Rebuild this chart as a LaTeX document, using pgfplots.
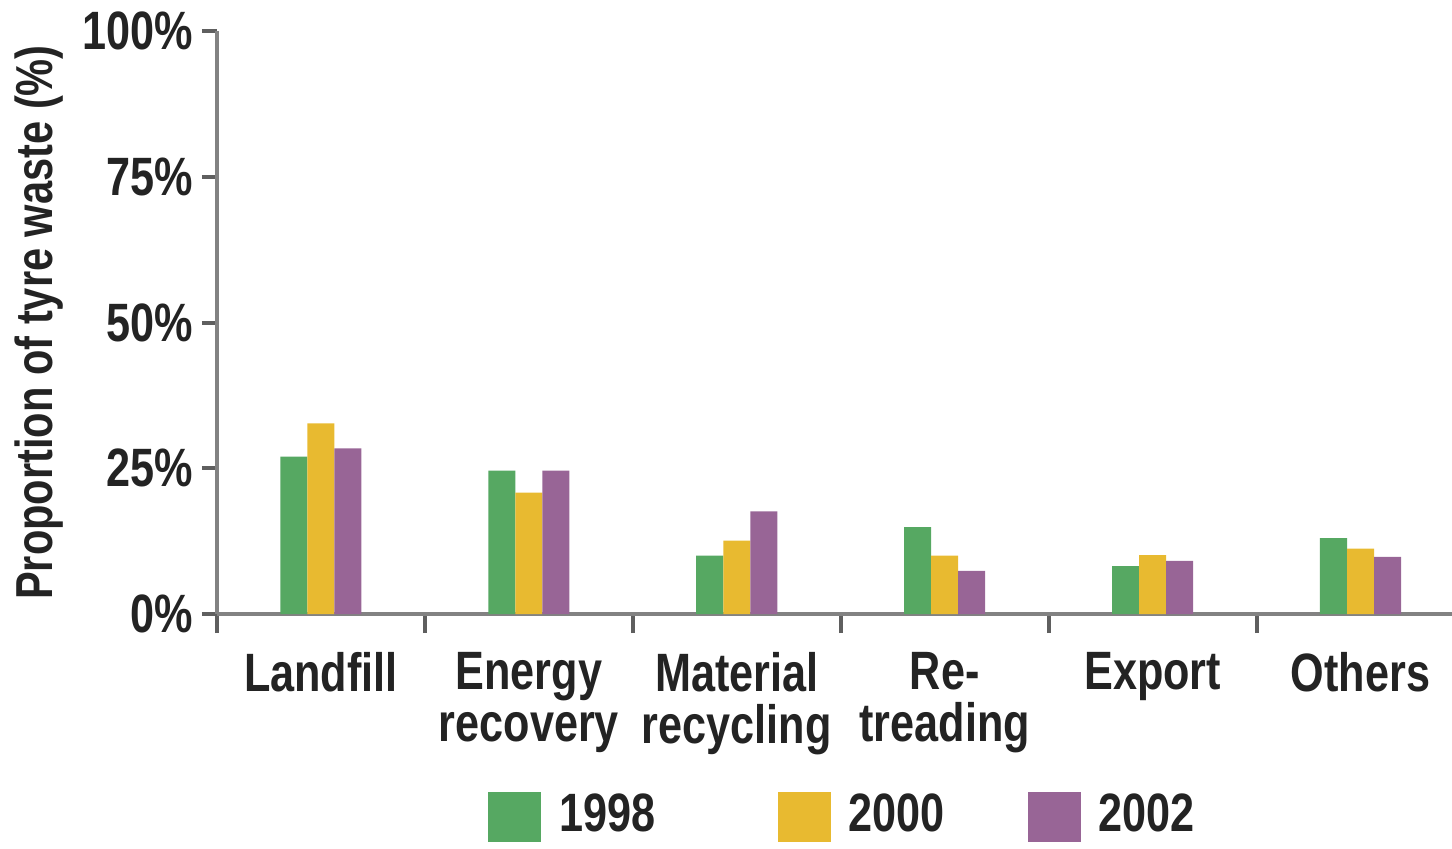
\documentclass[border=0pt]{standalone}
\usepackage{pgfplots}
\pgfplotsset{compat=1.18}
\usepackage{pgfplotstable}
\usepackage{fontspec}
\setmainfont{Liberation Sans}[FakeStretch=0.8]
\definecolor{cgreen}{RGB}{86,168,98}
\definecolor{cyellow}{RGB}{232,186,48}
\definecolor{cpurple}{RGB}{152,101,150}
\definecolor{caxis}{RGB}{130,130,130}
\definecolor{ctick}{RGB}{95,95,95}
\definecolor{ctext}{RGB}{35,35,35}

\pgfplotstableread{
x y1998 y2000 y2002
0 27.0 32.7 28.4
1 24.6 20.8 24.6
2 10.0 12.6 17.6
3 14.9 10.0 7.4
4 8.2 10.1 9.1
5 13.0 11.2 9.8
}\datatable

\begin{document}
\begin{tikzpicture}[font=\bfseries]
\begin{axis}[
  at={(0,0)}, anchor=south west,
  width=617.5pt, height=291.5pt, scale only axis,
  xmin=-0.5, xmax=5.44, ymin=0, ymax=100,
  axis lines=left,
  axis line style={caxis, line width=2pt, -},
  ybar, bar width=0.13,
  ytick={0,25,50,75,100},
  yticklabels={0\%,25\%,50\%,75\%,100\%},
  xtick={0,1,2,3,4,5},
  xticklabels={Landfill, Energy\\recovery, Material\\recycling, Re-\\treading, Export, Others},
  minor xtick={-0.5,0.5,1.5,2.5,3.5,4.5},
  tick align=outside,
  major tick length=7.5pt, minor tick length=9.5pt,
  major x tick style={draw=none},
  minor x tick style={ctick, line width=2pt},
  ytick style={ctick, line width=2pt},
  /pgf/number format/assume math mode=true,
  tick label style={text=ctext, font=\fontsize{27}{26}\selectfont\bfseries},
  xticklabel style={align=center, anchor=north, inner sep=0pt, yshift=-11.5pt},
  yticklabel style={inner sep=0pt, xshift=-4.5pt},
  ylabel={Proportion of tyre waste (\%)},
  ylabel style={at={(axis description cs:-0.144,0.5)}, anchor=center, inner sep=0pt, text=ctext, font=\fontsize{26}{30}\selectfont\bfseries},
  legend columns=3,
  legend style={draw=none, fill=none, at={(axis description cs:0,0)}, anchor=north west,
    xshift=135.5pt, yshift=-89pt, inner sep=0pt,
    nodes={inner sep=0pt, text depth=0pt, text=ctext, font=\fontsize{27}{30}\selectfont\bfseries},
    /tikz/column 1/.style={column sep=9pt},
    /tikz/column 2/.style={column sep=61pt},
    /tikz/column 3/.style={column sep=9pt},
    /tikz/column 4/.style={column sep=41.5pt},
    /tikz/column 5/.style={column sep=9pt}},
  legend image code/.code={\fill[#1] (0pt,-15pt) rectangle (26.5pt,10pt);},
]
\addplot[fill=cgreen, draw=none, bar shift=-0.13] table[x=x, y=y1998] {\datatable};
\addplot[fill=cyellow, draw=none, bar shift=0] table[x=x, y=y2000] {\datatable};
\addplot[fill=cpurple, draw=none, bar shift=0.13] table[x=x, y=y2002] {\datatable};
\legend{1998,2000,2002}
\end{axis}
\pgfresetboundingbox
\useasboundingbox (-108.5pt,-117pt) rectangle (617.5pt,307pt);
\end{tikzpicture}
\end{document}
